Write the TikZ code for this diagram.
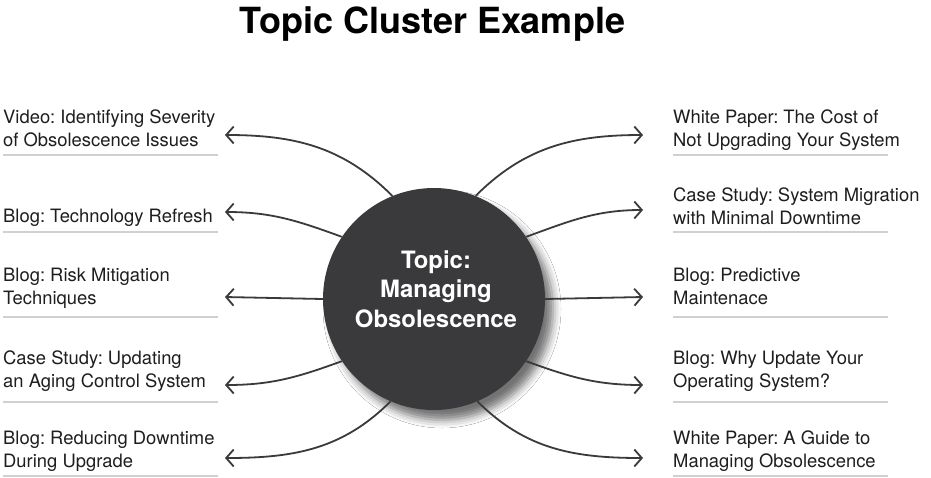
\documentclass[tikz,border=0pt]{standalone}
\usepackage{fontspec}
\setmainfont{TeX Gyre Heros}
\usetikzlibrary{arrows.meta,shadows.blur}
\definecolor{hubgray}{HTML}{3A3A3C}
\definecolor{linegray}{HTML}{3A3A3A}
\definecolor{rulegray}{HTML}{D0D0D0}
\definecolor{txtgray}{HTML}{1E1E1E}
\tikzset{
  lbl/.style={anchor=base west, inner sep=0pt, align=left, text=txtgray,
    font=\fontsize{18.4}{22.5}\selectfont},
  conn/.style={draw=linegray, line width=1.8pt,
    -{Straight Barb[length=7.5pt,width=17pt]}},
  underrule/.style={draw=rulegray, line width=1.4pt},
}
\begin{document}
\frenchspacing
\begin{tikzpicture}[x=1pt,y=1pt]
\useasboundingbox[fill=white] (0,0) rectangle (931,-477);
% title
\node[anchor=base, inner sep=0pt, font=\bfseries\fontsize{36}{36}\selectfont] (title) at (432.5,-33) {Topic Cluster Example};
% hub
\node[circle, fill=hubgray, minimum size=222pt, inner sep=0pt,
  blur shadow={shadow xshift=8pt, shadow yshift=-10pt, shadow blur radius=8pt, shadow opacity=55}] (hub) at (434,-299) {};
\node[align=center, text=white, inner sep=0pt, anchor=base,
  font=\bfseries\fontsize{23.9}{29.5}\selectfont] (hubtext) at (436,-327) {Topic:\\Managing\\Obsolescence};
% left labels (anchor at baseline of last line)
\node[lbl] (l1) at (3,-146) {Video: Identifying Severity\\of Obsolescence Issues};
\node[lbl] (l2) at (3,-222) {Blog: Technology Refresh};
\node[lbl] (l3) at (3,-304) {Blog: Risk Mitigation\\Techniques};
\node[lbl] (l4) at (3,-387) {Case Study: Updating\\an Aging Control System};
\node[lbl] (l5) at (3,-467) {Blog: Reducing Downtime\\During Upgrade};
% right labels
\node[lbl] (r1) at (673,-146) {White Paper: The Cost of\\Not Upgrading Your System};
\node[lbl] (r2) at (673,-224) {Case Study: System Migration\\with Minimal Downtime};
\node[lbl] (r3) at (673,-304) {Blog: Predictive\\Maintenace};
\node[lbl] (r4) at (673,-387) {Blog: Why Update Your\\Operating System?};
\node[lbl] (r5) at (673,-467) {White Paper: A Guide to\\Managing Obsolescence};
% underlines
\foreach \yy in {155,232,317,402,476}{
  \draw[underrule] (3,-\yy) -- (218,-\yy);
  \draw[underrule] (673,-\yy) -- (888,-\yy);
}
% arrow tips
\coordinate (tl1) at (225,-135);
\coordinate (tl2) at (225,-212);
\coordinate (tl3) at (225,-297);
\coordinate (tl4) at (225,-385);
\coordinate (tl5) at (225,-458);
\coordinate (tr1) at (643,-135);
\coordinate (tr2) at (643,-210);
\coordinate (tr3) at (643,-297);
\coordinate (tr4) at (643,-385);
\coordinate (tr5) at (643,-458);
% connectors
\draw[conn] (hub.112) to[out=135, in=0] (tl1);
\draw[conn] (hub.146) to[out=160, in=0] (tl2);
\draw[conn] (hub.180) -- (tl3);
\draw[conn] (hub.214) to[out=200, in=0] (tl4);
\draw[conn] (hub.247) to[out=225, in=0] (tl5);
\draw[conn] (hub.68) to[out=45, in=180] (tr1);
\draw[conn] (hub.34) to[out=20, in=180] (tr2);
\draw[conn] (hub.0) -- (tr3);
\draw[conn] (hub.326) to[out=-20, in=180] (tr4);
\draw[conn] (hub.293) to[out=-45, in=180] (tr5);
\end{tikzpicture}
\end{document}
